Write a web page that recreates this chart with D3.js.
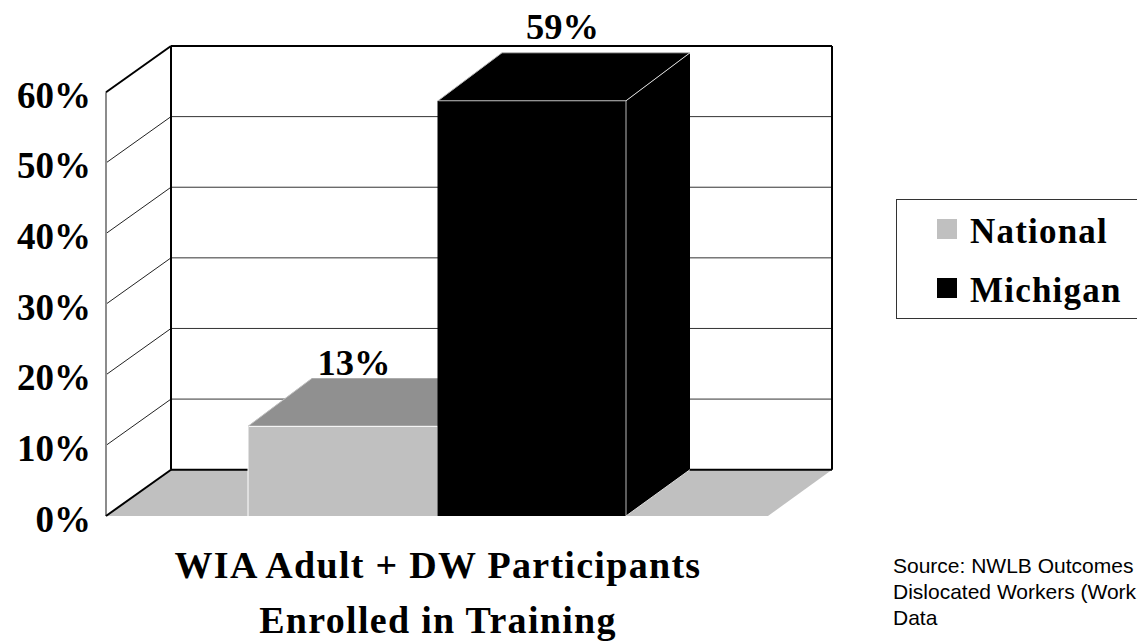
<!DOCTYPE html>
<html><head><meta charset="utf-8">
<script src="https://cdn.jsdelivr.net/npm/d3@7/dist/d3.min.js"></script>
<style>html,body{margin:0;padding:0;background:#fff;overflow:hidden}svg{display:block}
text{font-family:"Liberation Serif",serif;font-weight:bold;fill:#000}</style></head>
<body><svg id="c" width="1137" height="641"></svg>
<script>
const seriesNames = ["National", "Michigan"];
const barHeights = [12.7, 58.8];
const barLabels = ["13%", "59%"];
const tickValues = [0, 10, 20, 30, 40, 50, 60];
const titleLines = ["WIA Adult + DW Participants", "Enrolled in Training"];
const sourceLines = ["Source: NWLB Outcomes", "Dislocated Workers (Work", "Data"];
const frontColors = ["#c0c0c0", "#000000"];
const topColors = ["#909090", "#000000"];

const svg = d3.select("#c");
const y = d3.scaleLinear().domain([0, 60]).range([516, 92.3]);
const xFloor = [106, 768];
const wall = {dx: 65, dy: -46.3};
const depth = {dx: 64, dy: -48};
const x = d3.scaleLinear().domain([0, 1, 2]).range([248, 438, 626]);

const poly = (pts, fill, stroke, sw) => svg.append("polygon")
  .attr("points", pts.map(p => p.join(",")).join(" "))
  .attr("fill", fill).attr("stroke", stroke || "none").attr("stroke-width", sw || 0);
const line = (a, b, c, w) => svg.append("line")
  .attr("x1", a[0]).attr("y1", a[1]).attr("x2", b[0]).attr("y2", b[1])
  .attr("stroke", c).attr("stroke-width", w);

// floor
poly([[xFloor[0], y(0)], [xFloor[1], y(0)], [xFloor[1] + wall.dx - 1, y(0) + wall.dy], [xFloor[0] + wall.dx, y(0) + wall.dy]], "#c0c0c0");

// gridlines: left side wall + back wall
tickValues.slice(1, -1).forEach(t => {
  line([xFloor[0], y(t)], [xFloor[0] + wall.dx, y(t) + wall.dy], "#222", 1);
  line([xFloor[0] + wall.dx, y(t) + wall.dy], [xFloor[1] + wall.dx, y(t) + wall.dy], "#333", 1);
});

// frame
const X0 = xFloor[0], XB = xFloor[0] + wall.dx, XR = xFloor[1] + wall.dx - 1;
const YT = y(60), YB = y(0);
line([X0, YT], [X0, YB], "#8c8c8c", 2);
line([X0, YT], [XB, YT + wall.dy], "#000", 2);
line([XB, YT + wall.dy], [XB, YB + wall.dy], "#000", 2);
line([XB, YT + wall.dy], [XR, YT + wall.dy], "#000", 2);
line([XR, YT + wall.dy], [XR, YB + wall.dy], "#000", 2);
line([XB, YB + wall.dy], [XR, YB + wall.dy], "#000", 2);
line([X0, YB], [XB, YB + wall.dy], "#000", 2);

// bars
seriesNames.forEach((s, i) => {
  const l = x(i), r = x(i + 1), t = y(barHeights[i]), b = y(0);
  const edge = i === 0 ? "#fff" : "#b8b8b8";
  if (i === 1) poly([[r, t], [r + depth.dx, t + depth.dy], [r + depth.dx, b + wall.dy], [r, b]], "#000");
  poly([[l, t], [l + depth.dx, t + depth.dy], [r + depth.dx, t + depth.dy], [r, t]], topColors[i]);
  poly([[l, t], [r, t], [r, b], [l, b]], frontColors[i]);
  line([l, t], [r, t], edge, 1);
  line([l, t], [l, b], i === 0 ? "#fff" : "#000", 1);
  line([r, t], [r, b], edge, 1);
  line([l, t], [l + depth.dx, t + depth.dy], i === 0 ? "#c0c0c0" : edge, 1);
  if (i === 1) {
    line([l + depth.dx, t + depth.dy], [r + depth.dx, t + depth.dy], edge, 1);
    line([r, t], [r + depth.dx, t + depth.dy], "#ddd", 1);
    line([r, b], [r + depth.dx, b + wall.dy], "#ddd", 1);
  }
});

// value labels
const labelX = [354, 562.5], labelBase = [375, 39];
barLabels.forEach((d, i) => svg.append("text").attr("x", labelX[i]).attr("y", labelBase[i])
  .attr("text-anchor", "middle").attr("font-size", 36.5).text(d));

// axis labels
svg.append("g").selectAll("text").data(tickValues).join("text")
  .attr("x", 91).attr("y", d => y(d) + 15.5).attr("text-anchor", "end")
  .attr("font-size", 37).text(d => d + "%");

// title
const titleBase = [578, 633];
titleLines.forEach((d, i) => svg.append("text").attr("x", 438).attr("y", titleBase[i])
  .attr("text-anchor", "middle").attr("font-size", 38).attr("letter-spacing", 1.3).text(d));

// legend
svg.append("rect").attr("x", 896.5).attr("y", 199.5).attr("width", 260).attr("height", 119)
  .attr("fill", "#fff").attr("stroke", "#333").attr("stroke-width", 1);
const legendY = [219, 278];
seriesNames.forEach((s, i) => {
  svg.append("rect").attr("x", 937).attr("y", legendY[i]).attr("width", 20).attr("height", 20).attr("fill", frontColors[i]);
  svg.append("text").attr("x", 970).attr("y", legendY[i] + 24).attr("font-size", 35).attr("letter-spacing", 1.2).text(s);
});

// source
const sourceBase = [573, 599, 625];
sourceLines.forEach((d, i) => svg.append("text").attr("x", 893).attr("y", sourceBase[i])
  .style("font-family", '"Liberation Sans",sans-serif').style("font-weight", "normal")
  .attr("font-size", 21).text(d));
</script></body></html>
